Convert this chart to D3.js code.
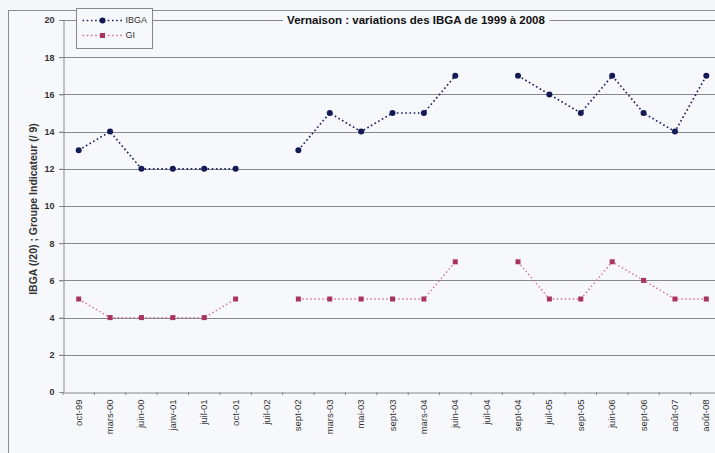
<!DOCTYPE html>
<html>
  <head>
    <meta charset="UTF-8">
    <title>Vernaison : variations des IBGA de 1999 à 2008</title>
    <style>
      body { margin: 0; background: #f5f7fa; }
      svg { display: block; font-family: "Liberation Sans", Arial, sans-serif; }
    </style>
  </head>
  <body>
    <svg></svg>
    <script src="https://d3js.org/d3.v7.min.js"></script>
    <script>

// dates des prélèvements
var dates = ["oct-99", "mars-00", "juin-00", "janv-01", "juil-01", "oct-01", "juil-02",
  "sept-02", "mars-03", "mai-03", "sept-03", "mars-04", "juin-04", "juil-04",
  "sept-04", "juil-05", "sept-05", "juin-06", "sept-06", "août-07", "août-08"];

// notes IBGA (/20), null = pas de mesure
var ibga = [13, 14, 12, 12, 12, 12, null, 13, 15, 14, 15, 15, 17, null, 17, 16, 15, 17, 15, 14, 17];

// groupe indicateur (/9)
var gi = [5, 4, 4, 4, 4, 5, null, 5, 5, 5, 5, 5, 7, null, 7, 5, 5, 7, 6, 5, 5];

var yTicks = [0, 2, 4, 6, 8, 10, 12, 14, 16, 18, 20];

var config = {
  width: 715,
  height: 453,
  margin: { top: 20, right: -7, bottom: 61, left: 63 }
};

var svg = d3.select("svg")
  .attr("width", config.width)
  .attr("height", config.height);

var m = config.margin;
var bg = "#f6f8fb", grid = "#85888d";

// outer frame of the chart object
svg.append("rect")
  .attr("x", 8.5).attr("y", 10.5)
  .attr("width", 760).attr("height", 500)
  .attr("fill", bg)
  .attr("stroke", "#8a8d92");

var x = d3.scaleBand()
  .domain(dates)
  .range([m.left, config.width - m.right]);

var y = d3.scaleLinear()
  .domain([0, 20])
  .range([config.height - m.bottom, m.top]);

// horizontal gridlines
svg.append("g")
  .selectAll("line")
  .data(yTicks.filter(function(d){ return d > 0; }))
  .enter().append("line")
    .attr("x1", m.left - 4).attr("x2", config.width)
    .attr("y1", function(d){ return Math.round(y(d)) + 0.5; })
    .attr("y2", function(d){ return Math.round(y(d)) + 0.5; })
    .attr("stroke", grid)
    .attr("stroke-width", 1);

// y axis
var yAxis = svg.append("g")
  .attr("transform", "translate(" + (m.left + 0.5) + ",0)")
  .call(d3.axisLeft(y).tickValues(yTicks).tickSize(4).tickPadding(5));
yAxis.select(".domain").attr("stroke", grid);
yAxis.selectAll(".tick line").attr("stroke", grid);
yAxis.selectAll("text")
  .attr("fill", "#333")
  .style("font-size", "9px")
  .style("font-weight", "bold");

// x axis
var xAxis = svg.append("g")
  .attr("transform", "translate(0," + (Math.round(y(0)) + 0.5) + ")")
  .call(d3.axisBottom(x).tickSize(0).tickPadding(6));
xAxis.select(".domain").attr("stroke", grid);
xAxis.selectAll("text")
  .attr("fill", "#333")
  .style("font-size", "9.5px")
  .attr("text-anchor", "end")
  .attr("transform", "rotate(-90)")
  .attr("x", -7)
  .attr("y", 0)
  .attr("dy", "0.32em");
// ticks between categories
svg.append("g")
  .selectAll("line")
  .data(dates)
  .enter().append("line")
    .attr("x1", function(d){ return x(d); })
    .attr("x2", function(d){ return x(d); })
    .attr("y1", y(0)).attr("y2", y(0) + 3)
    .attr("stroke", grid);

// axis title
svg.append("text")
  .attr("transform", "translate(37," + (y(10) + 3) + ") rotate(-90)")
  .attr("text-anchor", "middle")
  .style("font-size", "10.5px")
  .style("font-weight", "bold")
  .attr("fill", "#333")
  .text("IBGA (/20) ; Groupe Indicateur (/ 9)");

var cx = function(i){ return x(dates[i]) + x.bandwidth() / 2; };

var line = d3.line()
  .defined(function(d){ return d != null; })
  .x(function(d, i){ return cx(i); })
  .y(function(d){ return y(d); });

// GI series
svg.append("path")
  .datum(gi)
  .attr("d", line)
  .attr("fill", "none")
  .attr("stroke", "#d4709a")
  .attr("stroke-width", 1.4)
  .attr("stroke-dasharray", "1.5,2.5");

svg.append("g")
  .selectAll("rect")
  .data(gi.map(function(v, i){ return { v: v, i: i }; }).filter(function(d){ return d.v != null; }))
  .enter().append("rect")
    .attr("x", function(d){ return cx(d.i) - 2.5; })
    .attr("y", function(d){ return y(d.v) - 2.5; })
    .attr("width", 5).attr("height", 5)
    .attr("fill", "#a8345f");

// IBGA series
svg.append("path")
  .datum(ibga)
  .attr("d", line)
  .attr("fill", "none")
  .attr("stroke", "#1d2362")
  .attr("stroke-width", 1.7)
  .attr("stroke-dasharray", "1.6,2.6");

svg.append("g")
  .selectAll("circle")
  .data(ibga.map(function(v, i){ return { v: v, i: i }; }).filter(function(d){ return d.v != null; }))
  .enter().append("circle")
    .attr("cx", function(d){ return cx(d.i); })
    .attr("cy", function(d){ return y(d.v); })
    .attr("r", 3)
    .attr("fill", "#141a55");

// title, sitting on the top gridline
var titleBg = svg.append("rect").attr("fill", bg);
var title = svg.append("text")
  .attr("x", 416).attr("y", y(20) + 4)
  .attr("text-anchor", "middle")
  .style("font-size", "11.5px")
  .style("font-weight", "bold")
  .attr("fill", "#111")
  .text("Vernaison : variations des IBGA de 1999 à 2008");
var tb = title.node().getBBox();
titleBg
  .attr("x", tb.x - 4).attr("y", tb.y)
  .attr("width", tb.width + 8).attr("height", tb.height);

// legend
var legend = svg.append("g").attr("transform", "translate(76.5,8.5)");
legend.append("rect")
  .attr("width", 76).attr("height", 40)
  .attr("fill", bg)
  .attr("stroke", grid);

var items = [
  { name: "IBGA", stroke: "#1d2362", fill: "#141a55", shape: "circle" },
  { name: "GI", stroke: "#d4709a", fill: "#a8345f", shape: "rect" }
];
items.forEach(function(it, i){
  var g = legend.append("g").attr("transform", "translate(0," + (12 + i * 15) + ")");
  g.append("line")
    .attr("x1", 6).attr("x2", 46)
    .attr("stroke", it.stroke)
    .attr("stroke-width", 1.5)
    .attr("stroke-dasharray", "1.6,2.6");
  if (it.shape == "circle") {
    g.append("circle").attr("cx", 26).attr("r", 3).attr("fill", it.fill);
  } else {
    g.append("rect").attr("x", 23.5).attr("y", -2.5).attr("width", 5).attr("height", 5).attr("fill", it.fill);
  }
  g.append("text")
    .attr("x", 49).attr("dy", "0.32em")
    .style("font-size", "9px")
    .attr("fill", "#333")
    .text(it.name);
});

    </script>
  </body>
</html>
